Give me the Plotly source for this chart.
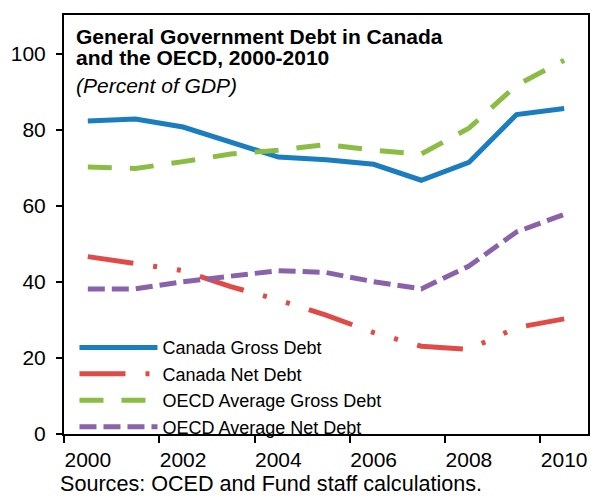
import plotly.graph_objects as go

years = list(range(2000, 2011))

canada_gross = [82.4, 82.9, 80.8, 77.0, 72.9, 72.2, 71.0, 66.8, 71.5, 84.1, 85.7]
canada_net = [46.7, 44.7, 43.0, 38.8, 35.3, 31.3, 26.7, 23.1, 22.3, 28.0, 30.3]
oecd_gross = [70.3, 69.9, 71.7, 73.7, 74.7, 76.2, 74.7, 73.7, 80.5, 91.8, 98.4]
oecd_net = [38.2, 38.2, 40.1, 41.4, 43.0, 42.5, 40.1, 38.2, 44.2, 53.2, 57.8]

series_names = ["Canada Gross Debt", "Canada Net Debt",
                "OECD Average Gross Debt", "OECD Average Net Debt"]
series_values = [canada_gross, canada_net, oecd_gross, oecd_net]
series_colors = ["#1a7dc0", "#e04b47", "#8bbd45", "#8a62aa"]
series_dash = ["solid", "46px,20px,4px,20px,4px,20px", "24px,18px", "17px,7px"]

x_tick_years = [2000, 2002, 2004, 2006, 2008, 2010]
x_boundaries = [y - 0.5 for y in x_tick_years]
y_ticks = [0, 20, 40, 60, 80, 100]

title_lines = ["<b>General Government Debt in Canada</b>",
               "<b>and the OECD, 2000-2010</b>"]
subtitle = "<i>(Percent of GDP)</i>"
source_note = "Sources: OCED and Fund staff calculations."

FONT = "Liberation Sans, Arial, sans-serif"

fig = go.Figure()
for name, vals, color, dash in zip(series_names, series_values, series_colors, series_dash):
    fig.add_trace(go.Scatter(
        x=years, y=vals, name=name, mode="lines",
        line=dict(color=color, width=5, dash=dash),
    ))

fig.update_layout(
    width=591, height=497,
    margin=dict(l=64, r=1, t=15, b=63),
    paper_bgcolor="white", plot_bgcolor="white",
    font=dict(family=FONT, color="black"),
    showlegend=True,
    legend=dict(
        x=0.02, y=0.25, xanchor="left", yanchor="top",
        bgcolor="rgba(0,0,0,0)",
        font=dict(size=18, family=FONT),
        itemwidth=78, tracegroupgap=0,
    ),
)

fig.update_xaxes(
    range=[1999.5, 2010.5],
    tickvals=x_tick_years, ticktext=[str(y) for y in x_tick_years],
    ticks="", tickfont=dict(size=21),
    showgrid=False, zeroline=False,
    showline=True, linecolor="black", linewidth=2, mirror=True,
    minor=dict(tickvals=x_boundaries, ticks="outside", ticklen=7,
               tickwidth=2, tickcolor="black", showgrid=False),
    ticklabelstandoff=6,
)
fig.update_yaxes(
    range=[0, 110.3],
    tickvals=y_ticks, ticks="outside", ticklen=6, tickwidth=2,
    tickcolor="black", tickfont=dict(size=21),
    showgrid=False, zeroline=False,
    showline=True, linecolor="black", linewidth=2, mirror=True,
    ticklabelstandoff=6,
)

for text, ypos in zip(title_lines, [0.982, 0.93]):
    fig.add_annotation(
        text=text, xref="paper", yref="paper", x=0.02, y=ypos,
        xanchor="left", yanchor="top", align="left", showarrow=False,
        font=dict(size=21, family=FONT),
    )
fig.add_annotation(
    text=subtitle, xref="paper", yref="paper", x=0.02, y=0.865,
    xanchor="left", yanchor="top", align="left", showarrow=False,
    font=dict(size=21, family=FONT),
)
fig.add_annotation(
    text=source_note, xref="paper", yref="paper", x=-0.012, y=-0.152,
    xanchor="left", yanchor="bottom", align="left", showarrow=False,
    font=dict(size=21.6, family=FONT),
)

fig.write_html("out.html")
